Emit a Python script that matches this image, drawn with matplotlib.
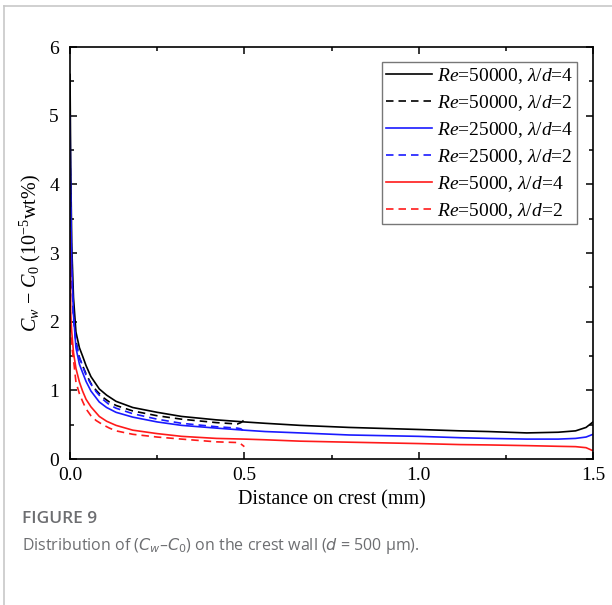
import numpy as np
import matplotlib.pyplot as plt
from matplotlib.lines import Line2D
from matplotlib.ticker import MultipleLocator

plt.rcParams['font.family'] = 'Liberation Serif'
plt.rcParams['mathtext.fontset'] = 'custom'
plt.rcParams['mathtext.rm'] = 'Liberation Serif'
plt.rcParams['mathtext.it'] = 'Liberation Serif:italic'

# distance on crest (mm) and Cw - C0 (1e-5 wt%)
x_long = [0, 0.002, 0.005, 0.01, 0.017, 0.027, 0.036, 0.046, 0.06, 0.084, 0.105, 0.132,
          0.18, 0.25, 0.32, 0.42, 0.5, 0.56, 0.66, 0.8, 1.0, 1.12, 1.2, 1.31, 1.4, 1.45,
          1.48, 1.5]
re50000_l4 = [5.6, 4.3, 3.1, 2.35, 1.85, 1.62, 1.5, 1.36, 1.2, 1.02, 0.93, 0.84,
              0.75, 0.68, 0.62, 0.57, 0.54, 0.52, 0.49, 0.46, 0.43, 0.41, 0.40, 0.38, 0.39, 0.41,
              0.46, 0.54]
re25000_l4 = [5.0, 3.8, 2.8, 2.1, 1.62, 1.38, 1.26, 1.13, 0.99, 0.83, 0.75, 0.68,
              0.61, 0.54, 0.49, 0.45, 0.42, 0.40, 0.38, 0.35, 0.33, 0.31, 0.30, 0.29, 0.29, 0.30,
              0.32, 0.36]
re5000_l4 = [3.3, 2.1, 1.85, 1.55, 1.32, 1.12, 0.99, 0.87, 0.76, 0.62, 0.55, 0.49,
             0.42, 0.37, 0.33, 0.30, 0.29, 0.28, 0.26, 0.245, 0.225, 0.21, 0.205, 0.195, 0.185, 0.18,
             0.165, 0.12]

x_short = [0, 0.002, 0.005, 0.01, 0.017, 0.027, 0.036, 0.046, 0.06, 0.075, 0.094, 0.113,
           0.132, 0.18, 0.25, 0.32, 0.42, 0.48, 0.49, 0.5]
re50000_l2 = [4.6, 3.6, 2.7, 2.1, 1.72, 1.47, 1.36, 1.24, 1.1, 1.0, 0.9, 0.83,
              0.78, 0.7, 0.63, 0.58, 0.53, 0.51, 0.53, 0.57]
re25000_l2 = [4.4, 3.5, 2.6, 2.05, 1.7, 1.48, 1.36, 1.22, 1.09, 0.98, 0.87, 0.79,
              0.74, 0.66, 0.58, 0.52, 0.47, 0.45, 0.44, 0.40]
re5000_l2 = [2.5, 1.9, 1.65, 1.45, 1.12, 0.95, 0.84, 0.73, 0.63, 0.56, 0.5, 0.45,
             0.41, 0.36, 0.32, 0.29, 0.25, 0.24, 0.22, 0.18]

fig = plt.figure(figsize=(6.12, 6.05), dpi=100)
ax = fig.add_axes([0.1144, 0.2413, 0.8546, 0.681])

lw = 1.2
dash = (0, (4.5, 3))
ax.plot(x_long, re50000_l4, color='black', lw=lw, label=r'$Re$=50000, $\lambda/d$=4')
ax.plot(x_short, re50000_l2, color='black', lw=lw, ls=dash, label=r'$Re$=50000, $\lambda/d$=2')
ax.plot(x_long, re25000_l4, color='#1a1aff', lw=lw, label=r'$Re$=25000, $\lambda/d$=4')
ax.plot(x_short, re25000_l2, color='#1a1aff', lw=lw, ls=dash, label=r'$Re$=25000, $\lambda/d$=2')
ax.plot(x_long, re5000_l4, color='#ff1a1a', lw=lw, label=r'$Re$=5000, $\lambda/d$=4')
ax.plot(x_short, re5000_l2, color='#ff1a1a', lw=lw, ls=dash, label=r'$Re$=5000, $\lambda/d$=2')

ax.set_xlim(0, 1.5)
ax.set_ylim(0, 6)
ax.xaxis.set_major_locator(MultipleLocator(0.5))
ax.xaxis.set_minor_locator(MultipleLocator(0.25))
ax.yaxis.set_major_locator(MultipleLocator(1))
ax.yaxis.set_minor_locator(MultipleLocator(0.5))
ax.xaxis.set_major_formatter(plt.FuncFormatter(lambda v, p: f'{v:.1f}'))
ax.tick_params(which='both', direction='in', top=True, right=True, width=1.1)
ax.tick_params(which='major', length=5, labelsize=14)
ax.tick_params(which='minor', length=3)
ax.tick_params(axis='y', pad=8)
ax.tick_params(axis='x', pad=6)
for s in ax.spines.values():
    s.set_linewidth(1.2)

ax.set_xlabel('Distance on crest (mm)', fontsize=14.5, labelpad=4)
ax.set_ylabel(r'$C_w$ $-$ $C_0$ (10$^{-5}$wt%)', fontsize=14.5, labelpad=4)

leg = ax.legend(loc='upper right', bbox_to_anchor=(0.969, 0.964), borderaxespad=0,
                fontsize=14, frameon=True, fancybox=False, handlelength=2.35,
                handletextpad=0.25, labelspacing=0.37, borderpad=0.2)
leg.get_frame().set_edgecolor('#555555')
leg.get_frame().set_linewidth(1.0)

# page frame and caption
fig.add_artist(Line2D([4 / 612, 1], [1 - 6 / 605, 1 - 6 / 605], color='#c8c8c8', lw=1.2))
fig.add_artist(Line2D([4 / 612, 4 / 612], [0, 1 - 6 / 605], color='#c8c8c8', lw=1.2))
fig.text(22 / 612, 1 - 519 / 605, 'FIGURE 9', family='Open Sans', fontsize=12.5,
         fontweight='semibold', color='#6d6e71', va='center')
fig.text(22 / 612, 1 - 546 / 605, r'Distribution of ($C_w$–$C_0$) on the crest wall ($d$ = 500 μm).',
         family='Open Sans', fontsize=11.5, color='#6d6e71', va='center',
         math_fontfamily='dejavusans')

fig.savefig('out.png', dpi=100)
